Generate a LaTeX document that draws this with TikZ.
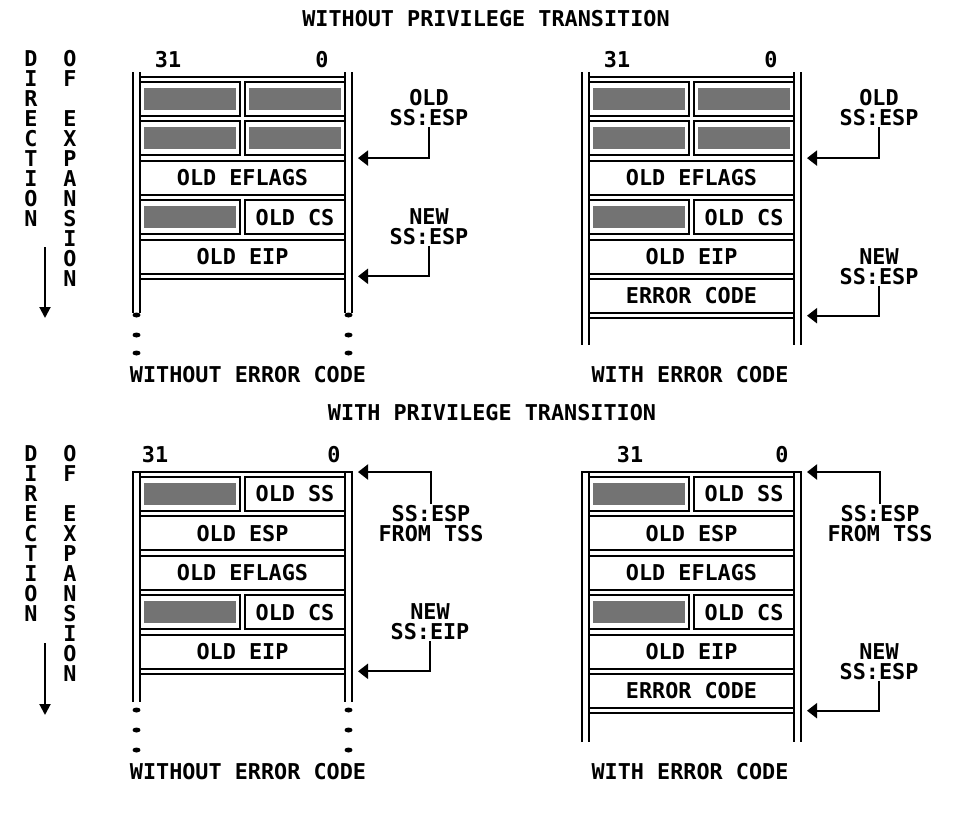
\documentclass[tikz,border=0pt]{standalone}
\usepackage{fontspec}
\setmainfont{DejaVu Sans Mono}
\usetikzlibrary{arrows.meta,calc}

\begin{document}
\begin{tikzpicture}[
  x=1pt, y=-1pt,
  font=\fontsize{21.8}{20}\selectfont\bfseries,
  cellbox/.style={draw, line width=2pt, minimum height=34pt, inner sep=0pt, outer sep=0pt, anchor=north west},
  full/.style={cellbox, minimum width=205pt},
  half/.style={cellbox, minimum width=100pt},
  greycell/.style={half, path picture={\fill[black!55]
      ([shift={(4pt,-6pt)}]path picture bounding box.north west) rectangle
      ([shift={(-4pt,6pt)}]path picture bounding box.south east);}},
  wall/.style={line width=2.5pt},
  rowline/.style={line width=2pt},
  ptr/.style={-{Triangle[length=10pt,width=15pt]}, line width=2pt},
  dirarrow/.style={-{Triangle[length=11pt,width=11pt]}, line width=2pt},
  lbl/.style={align=center, inner sep=1pt},
  vtext/.style={align=center, inner sep=0pt, anchor=north},
]
\useasboundingbox (0,0) rectangle (953,814);

% ------------------------------------------------------------ titles
\node (ttlA) at (486,19) {WITHOUT PRIVILEGE TRANSITION};
\node (ttlB) at (492,413) {WITH PRIVILEGE TRANSITION};

% ------------------------------------------------------------ direction of expansion
\node[vtext] (dirA) at (31,50) {D\\I\\R\\E\\C\\T\\I\\O\\N};
\node[vtext] (expA) at (70,50) {O\\F\\[20pt]E\\X\\P\\A\\N\\S\\I\\O\\N};
\coordinate (dirA1) at (45,247);
\coordinate (dirA2) at (45,318);
\draw[dirarrow] (dirA1) -- (dirA2);
\node[vtext] (dirB) at (31,445) {D\\I\\R\\E\\C\\T\\I\\O\\N};
\node[vtext] (expB) at (70,445) {O\\F\\[20pt]E\\X\\P\\A\\N\\S\\I\\O\\N};
\coordinate (dirB1) at (45,643);
\coordinate (dirB2) at (45,715);
\draw[dirarrow] (dirB1) -- (dirB2);

% ------------------------------------------------------------ without transition, no error code
\node (hiA) at (168,60) {31};
\node (loA) at (322,60) {0};
\draw[wall] (133,72) -- (133,313) (352,72) -- (352,313);
\draw[wall] (140,72) -- (140,313) (345,72) -- (345,313);
\draw[rowline] (140,77) -- (345,77);
\node[greycell] (a1l) at (140,82) {};
\node[greycell] (a1r) at (245,82) {};
\node[greycell] (a2l) at (140,121.4) {};
\node[greycell] (a2r) at (245,121.4) {};
\node[full] (a3) at (140,160.8) {OLD EFLAGS};
\node[greycell] (a4l) at (140,200.2) {};
\node[half] (a4r) at (245,200.2) {OLD CS};
\node[full] (a5) at (140,239.6) {OLD EIP};
\coordinate (a6) at (345,279);
\draw[rowline] (140,279) -- (a6);
\foreach \y in {315,335,353} {\fill (136.5,\y) ellipse (4 and 2.5) (348.5,\y) ellipse (4 and 2.5);}
\node (capA) at (248,375) {WITHOUT ERROR CODE};

\node[lbl] (oldA) at (429,107.5) {OLD\\SS:ESP};
\node[lbl] (newA) at (429,226.5) {NEW\\SS:ESP};
\draw[ptr] (oldA.south) |- ($(a2r.south east)!.5!(a3.north east)+(13,0)$);
\draw[ptr] (newA.south) |- ($(a5.south east)!.5!(a6)+(13,0)$);

% ------------------------------------------------------------ without transition, error code
\node (hiB) at (617,60) {31};
\node (loB) at (771,60) {0};
\draw[wall] (582,72) -- (582,345) (801,72) -- (801,345);
\draw[wall] (589,72) -- (589,345) (794,72) -- (794,345);
\draw[rowline] (589,77) -- (794,77);
\node[greycell] (b1l) at (589,82) {};
\node[greycell] (b1r) at (694,82) {};
\node[greycell] (b2l) at (589,121.4) {};
\node[greycell] (b2r) at (694,121.4) {};
\node[full] (b3) at (589,160.8) {OLD EFLAGS};
\node[greycell] (b4l) at (589,200.2) {};
\node[half] (b4r) at (694,200.2) {OLD CS};
\node[full] (b5) at (589,239.6) {OLD EIP};
\node[full] (b6) at (589,279) {ERROR CODE};
\coordinate (b7) at (794,318.4);
\draw[rowline] (589,318.4) -- (b7);
\node (capB) at (690,375) {WITH ERROR CODE};

\node[lbl] (oldB) at (879,107.5) {OLD\\SS:ESP};
\node[lbl] (newB) at (879,266.5) {NEW\\SS:ESP};
\draw[ptr] (oldB.south) |- ($(b2r.south east)!.5!(b3.north east)+(13,0)$);
\draw[ptr] (newB.south) |- ($(b6.south east)!.5!(b7)+(13,0)$);

% ------------------------------------------------------------ with transition, no error code
\node (hiC) at (155,455) {31};
\node (loC) at (334,455) {0};
\coordinate (ctop) at (352,472);
\draw[wall] (133,702) -- (133,472) -- (ctop) -- (352,702);
\draw[wall] (140,472) -- (140,702) (345,472) -- (345,702);
\node[greycell] (c1l) at (140,477) {};
\node[half] (c1r) at (245,477) {OLD SS};
\node[full] (c2) at (140,516.4) {OLD ESP};
\node[full] (c3) at (140,555.8) {OLD EFLAGS};
\node[greycell] (c4l) at (140,595.2) {};
\node[half] (c4r) at (245,595.2) {OLD CS};
\node[full] (c5) at (140,634.6) {OLD EIP};
\coordinate (c6) at (345,674);
\draw[rowline] (140,674) -- (c6);
\foreach \y in {710,730,750} {\fill (136.5,\y) ellipse (4 and 2.5) (348.5,\y) ellipse (4 and 2.5);}
\node (capC) at (248,772) {WITHOUT ERROR CODE};

\node[lbl] (tssC) at (431,523.5) {SS:ESP\\FROM TSS};
\node[lbl] (newC) at (430,622) {NEW\\SS:EIP};
\draw[ptr] (tssC.north) |- ([xshift=6pt]ctop);
\draw[ptr] (newC.south) |- ($(c5.south east)!.5!(c6)+(13,0)$);

% ------------------------------------------------------------ with transition, error code
\node (hiD) at (630,455) {31};
\node (loD) at (782,455) {0};
\coordinate (dtop) at (801,472);
\draw[wall] (582,742) -- (582,472) -- (dtop) -- (801,742);
\draw[wall] (589,472) -- (589,742) (794,472) -- (794,742);
\node[greycell] (d1l) at (589,477) {};
\node[half] (d1r) at (694,477) {OLD SS};
\node[full] (d2) at (589,516.4) {OLD ESP};
\node[full] (d3) at (589,555.8) {OLD EFLAGS};
\node[greycell] (d4l) at (589,595.2) {};
\node[half] (d4r) at (694,595.2) {OLD CS};
\node[full] (d5) at (589,634.6) {OLD EIP};
\node[full] (d6) at (589,674) {ERROR CODE};
\coordinate (d7) at (794,713.4);
\draw[rowline] (589,713.4) -- (d7);
\node (capD) at (690,772) {WITH ERROR CODE};

\node[lbl] (tssD) at (880,523.5) {SS:ESP\\FROM TSS};
\node[lbl] (newD) at (879,661.5) {NEW\\SS:ESP};
\draw[ptr] (tssD.north) |- ([xshift=6pt]dtop);
\draw[ptr] (newD.south) |- ($(d6.south east)!.5!(d7)+(13,0)$);

\end{tikzpicture}
\end{document}
